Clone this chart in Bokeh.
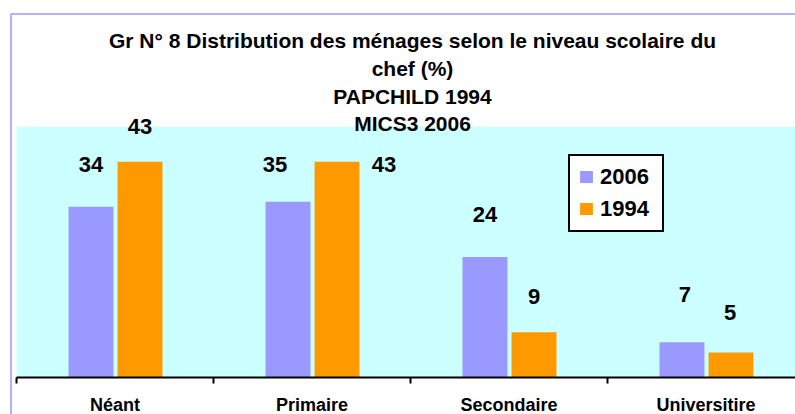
from bokeh.plotting import figure
from bokeh.models import (ColumnDataSource, Range1d, FixedTicker, LabelSet, Label,
                          BoxAnnotation, Legend, LegendItem)
from bokeh.core.properties import value
from bokeh.embed import file_html
from bokeh.resources import INLINE

# ---- data ----
categories = ["Néant", "Primaire", "Secondaire", "Universitire"]
series_names = ["2006", "1994"]
values_2006 = [34, 35, 24, 7]
values_1994 = [43, 43, 9, 5]
title_lines = ["Gr N° 8 Distribution des ménages selon le niveau scolaire du",
               "chef (%)", "PAPCHILD 1994", "MICS3 2006"]
y_max = 50

# ---- label placement tweaks (screen px) ----
dx_2006 = [0, -13, 0, 3]
dy_2006 = [35, 30, 35, 40]
dx_1994 = [0, 47, 0, -1]
dy_1994 = [28, -10, 28, 32]

FONT = "Liberation Sans"
C2006 = "#9999FF"
C1994 = "#FF9900"
BG = "#CCFFFF"

W, H = 795, 414
PX_X = 197.0      # px per category
PX_Y = 5.02       # px per unit
X0, Y0 = 16, 377  # page position of data origin

p = figure(width=W, height=H, output_backend="svg", toolbar_location=None,
           x_range=Range1d(-X0 / PX_X, (W - X0) / PX_X),
           y_range=Range1d(-(H - Y0) / PX_Y, Y0 / PX_Y),
           y_axis_location=None,
           min_border_left=0, min_border_right=0, min_border_top=0, min_border_bottom=0)
p.background_fill_color = "white"
p.border_fill_color = "white"
p.outline_line_color = None
p.xgrid.visible = False
p.ygrid.visible = False

# plot area background
p.add_layout(BoxAnnotation(left=0, bottom=0, top=y_max, fill_color=BG, fill_alpha=1,
                           line_color=None, level="underlay"))

idx = list(range(len(categories)))
off06, off94, bw = 0.378, 0.627, 0.228
src = ColumnDataSource(dict(
    x06=[i + off06 for i in idx], x94=[i + off94 for i in idx],
    v06=values_2006, v94=values_1994,
    t06=[str(v) for v in values_2006], t94=[str(v) for v in values_1994],
    dx06=dx_2006, dy06=dy_2006, dx94=dx_1994, dy94=dy_1994,
))

r1 = p.vbar(x="x06", top="v06", width=bw, source=src, fill_color=C2006, line_color=None)
r2 = p.vbar(x="x94", top="v94", width=bw, source=src, fill_color=C1994, line_color=None)

common = dict(text_align="center", text_baseline="alphabetic", text_font=value(FONT),
              text_font_size=value("22px"), text_font_style="bold", text_color="black")
p.add_layout(LabelSet(x="x06", y="v06", text="t06", x_offset="dx06", y_offset="dy06",
                      source=src, **common))
p.add_layout(LabelSet(x="x94", y="v94", text="t94", x_offset="dx94", y_offset="dy94",
                      source=src, **common))

# title lines (baselines in page px)
title_base = [40, 68, 96, 123]
for txt, tb in zip(title_lines, title_base):
    p.add_layout(Label(x=412, y=H - tb, x_units="screen", y_units="screen", text=txt,
                       text_align="center", text_baseline="alphabetic",
                       text_font=FONT, text_font_size="21px",
                       text_font_style="bold", text_color="black"))

# chart-area border
p.add_layout(BoxAnnotation(left=10.5, right=3000, top=H - 13.5, bottom=-3000,
                           left_units="screen", right_units="screen",
                           top_units="screen", bottom_units="screen",
                           fill_color=None, line_color="#0000FF", line_width=2))

# axis
ax = p.xaxis[0]
ax.fixed_location = 0
ax.bounds = (0, len(categories))
ax.ticker = FixedTicker(ticks=[i + 0.5 for i in idx],
                        minor_ticks=[float(i) for i in range(len(categories) + 1)])
ax.major_label_overrides = {i + 0.5: c for i, c in zip(idx, categories)}
ax.axis_line_color = "black"
ax.axis_line_width = 2
ax.major_tick_out = 0
ax.major_tick_in = 0
ax.major_tick_line_color = None
ax.minor_tick_out = 6
ax.minor_tick_in = 0
ax.minor_tick_line_color = "black"
ax.minor_tick_line_width = 2
ax.major_label_standoff = 11
ax.major_label_text_font = FONT
ax.major_label_text_font_size = "18px"
ax.major_label_text_font_style = "bold"
ax.major_label_text_color = "black"

legend = Legend(items=[LegendItem(label=series_names[0], renderers=[r1]),
                       LegendItem(label=series_names[1], renderers=[r2])],
                location=(568, H - 231.7), orientation="vertical",
                border_line_color="black", border_line_width=2, border_line_alpha=1,
                background_fill_color="white", background_fill_alpha=1,
                padding=8, spacing=6, margin=0,
                glyph_width=16, glyph_height=15, label_standoff=6, label_width=54,
                label_text_font=FONT, label_text_font_size="22px",
                label_text_font_style="bold", label_text_color="black")
p.add_layout(legend)

open("out.html", "w").write(file_html(p, INLINE))
